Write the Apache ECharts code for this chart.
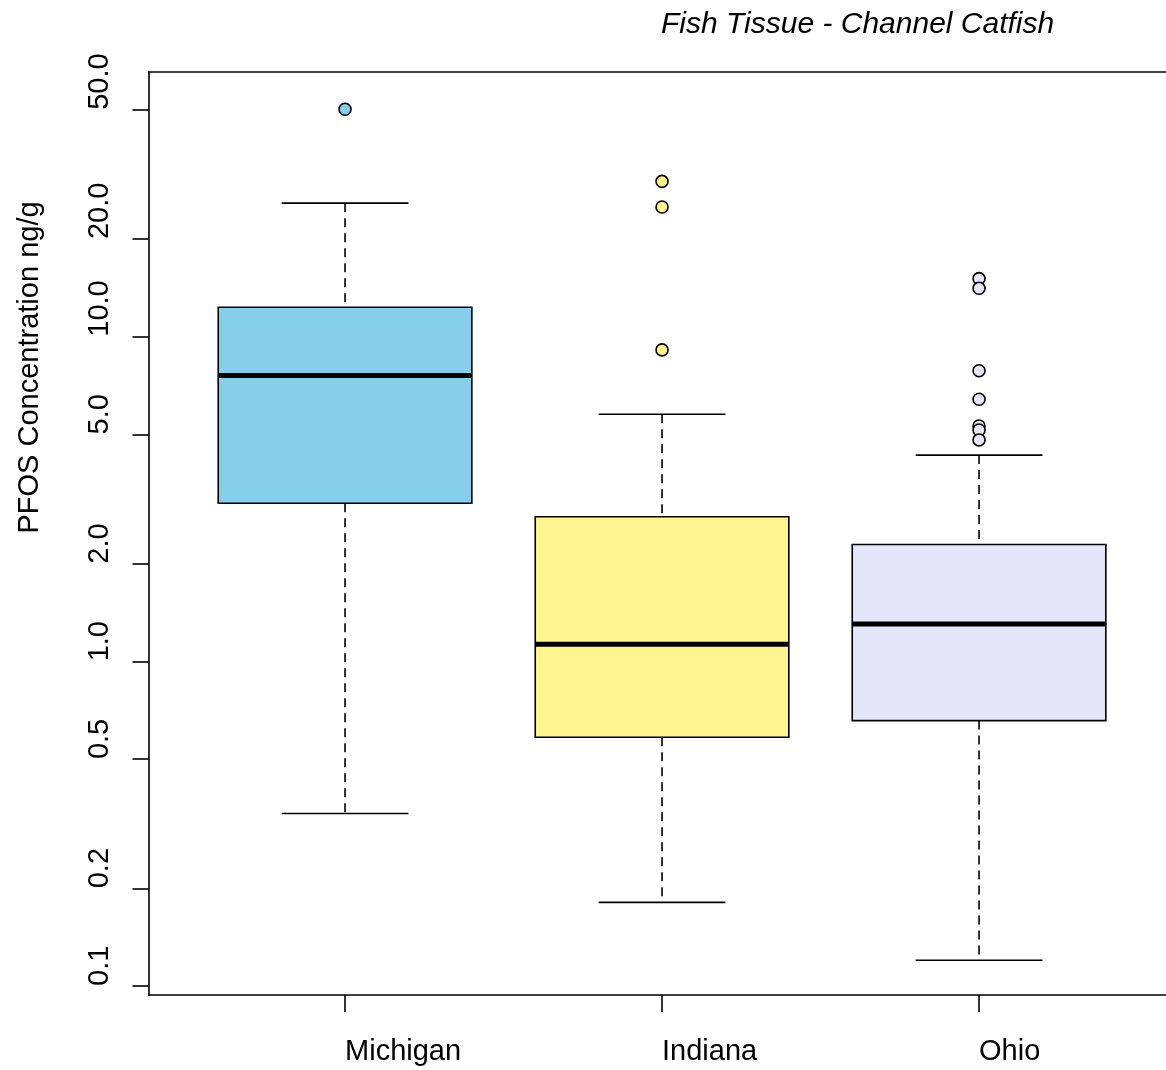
<!DOCTYPE html>
<html>
<head>
<meta charset="utf-8">
<script src="https://cdn.jsdelivr.net/npm/echarts@6/dist/echarts.min.js"></script>
<style>
  html, body { margin: 0; padding: 0; background: #ffffff; }
  #chart { width: 1166px; height: 1070px; }
</style>
</head>
<body>
<div id="chart"></div>
<script>
// States (x positions 1, 2, 3)
const categories = ['Michigan', 'Indiana', 'Ohio'];

// Box statistics, ng/g: [lower whisker, Q1, median, Q3, upper whisker]
const michiganStats = [0.340, 3.07, 7.59, 12.33, 25.8];
const indianaStats  = [0.181, 0.584, 1.129, 2.79, 5.77];
const ohioStats     = [0.120, 0.657, 1.304, 2.29, 4.32];

// Points beyond the whiskers
const michiganOutliers = [50.2];
const indianaOutliers  = [30.1, 25.1, 9.11];
const ohioOutliers     = [15.1, 14.1, 7.86, 6.42, 5.31, 5.16, 4.81];

// Y axis ticks (log scale) and their printed labels
const yTickValues = [0.1, 0.2, 0.5, 1, 2, 5, 10, 20, 50];
const yTickLabels = ['0.1', '0.2', '0.5', '1.0', '2.0', '5.0', '10.0', '20.0', '50.0'];

const fills = ['#87CEEB', '#FFF48F', '#E6E6FA'];
const FONT = '"Liberation Sans", Arial, Helvetica, sans-serif';

const allStats = [michiganStats, indianaStats, ohioStats];
const allOutliers = [michiganOutliers, indianaOutliers, ohioOutliers];

const boxData = allStats.map((s, i) => [i + 1].concat(s));

const BOX_HALF = 0.4;
const CAP_HALF = 0.2;

function renderBox(params, api) {
  const x = api.value(0);
  const lo = api.value(1), q1 = api.value(2), md = api.value(3), q3 = api.value(4), hi = api.value(5);
  const c = (xx, v) => api.coord([xx, v]);
  const fill = fills[params.dataIndex];
  const pTL = c(x - BOX_HALF, q3);
  const pBR = c(x + BOX_HALF, q1);
  const pMedL = c(x - BOX_HALF, md);
  const pMedR = c(x + BOX_HALF, md);
  const pHi = c(x, hi), pLo = c(x, lo);
  const pQ3 = c(x, q3), pQ1 = c(x, q1);
  const capHiL = c(x - CAP_HALF, hi), capHiR = c(x + CAP_HALF, hi);
  const capLoL = c(x - CAP_HALF, lo), capLoR = c(x + CAP_HALF, lo);
  const solid = { stroke: '#000', lineWidth: 1.6 };
  const dashed = { stroke: '#000', lineWidth: 1.6, lineDash: [9, 6] };
  return {
    type: 'group',
    children: [
      { type: 'line', shape: { x1: pHi[0], y1: pHi[1], x2: pQ3[0], y2: pQ3[1] }, style: dashed },
      { type: 'line', shape: { x1: pQ1[0], y1: pQ1[1], x2: pLo[0], y2: pLo[1] }, style: dashed },
      { type: 'line', shape: { x1: capHiL[0], y1: capHiL[1], x2: capHiR[0], y2: capHiR[1] }, style: solid },
      { type: 'line', shape: { x1: capLoL[0], y1: capLoL[1], x2: capLoR[0], y2: capLoR[1] }, style: solid },
      {
        type: 'rect',
        shape: { x: pTL[0], y: pTL[1], width: pBR[0] - pTL[0], height: pBR[1] - pTL[1] },
        style: { fill: fill, stroke: '#000', lineWidth: 1.6 }
      },
      { type: 'line', shape: { x1: pMedL[0], y1: pMedL[1], x2: pMedR[0], y2: pMedR[1] }, style: { stroke: '#000', lineWidth: 5 } }
    ]
  };
}

const X_MIN = 0.38;
const X_MAX = 3.5898;
const Y_MIN = 0.0938;
const Y_MAX = 65.4;

const outlierSeries = allOutliers.map((arr, i) => ({
  type: 'scatter',
  xAxisIndex: 0,
  yAxisIndex: 0,
  data: arr.map(v => [i + 1, v]),
  symbol: 'circle',
  symbolSize: 12,
  itemStyle: { color: fills[i], borderColor: '#000', borderWidth: 1.6, opacity: 1 },
  z: 5,
  silent: true
}));

const chart = echarts.init(document.getElementById('chart'), null, { renderer: 'canvas' });
chart.setOption({
  animation: false,
  backgroundColor: '#ffffff',
  title: {
    text: 'Fish Tissue - Channel Catfish',
    left: 656,
    top: 5,
    textStyle: { fontFamily: FONT, fontStyle: 'italic', fontWeight: 'normal', fontSize: 30, color: '#000' }
  },
  grid: { left: 148.5, right: 0, top: 72, bottom: 75, containLabel: false },
  xAxis: [
    {
      type: 'value',
      min: X_MIN,
      max: X_MAX,
      position: 'bottom',
      splitLine: { show: false },
      axisLine: { show: true, onZero: false, lineStyle: { color: '#000', width: 1.6 } },
      axisTick: { show: true, customValues: [1, 2, 3], length: 17, lineStyle: { color: '#000', width: 1.6 } },
      axisLabel: {
        show: true,
        customValues: [1, 2, 3],
        formatter: v => categories[Math.round(v) - 1],
        align: 'left',
        margin: 42,
        fontFamily: FONT,
        fontSize: 29,
        color: '#000'
      }
    },
    {
      type: 'value',
      min: X_MIN,
      max: X_MAX,
      position: 'top',
      splitLine: { show: false },
      axisLine: { show: true, onZero: false, lineStyle: { color: '#000', width: 1.6 } },
      axisTick: { show: false },
      axisLabel: { show: false }
    }
  ],
  yAxis: {
    type: 'log',
    logBase: 10,
    min: Y_MIN,
    max: Y_MAX,
    name: 'PFOS Concentration ng/g',
    nameLocation: 'middle',
    nameGap: 104,
    nameRotate: 90,
    nameTextStyle: { fontFamily: FONT, fontSize: 29, color: '#000', align: 'left' },
    splitLine: { show: false },
    axisLine: { show: true, onZero: false, lineStyle: { color: '#000', width: 1.6 } },
    axisTick: { show: true, customValues: yTickValues, length: 16, lineStyle: { color: '#000', width: 1.6 } },
    axisLabel: {
      show: true,
      customValues: yTickValues,
      rotate: 90,
      align: 'left',
      margin: 34,
      formatter: v => {
        const i = yTickValues.findIndex(t => Math.abs(t - v) / t < 1e-6);
        return i >= 0 ? yTickLabels[i] : '';
      },
      fontFamily: FONT,
      fontSize: 29,
      color: '#000'
    }
  },
  series: [
    {
      type: 'custom',
      xAxisIndex: 0,
      yAxisIndex: 0,
      renderItem: renderBox,
      encode: { x: 0, y: [1, 2, 3, 4, 5] },
      data: boxData,
      z: 2,
      silent: true
    }
  ].concat(outlierSeries)
});
</script>
</body>
</html>
